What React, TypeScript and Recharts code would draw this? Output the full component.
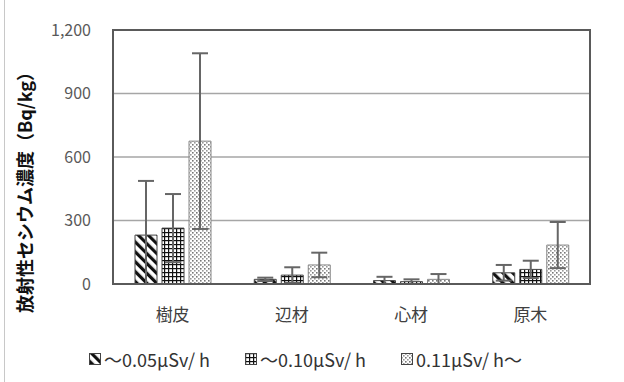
import { BarChart, Bar, XAxis, YAxis, CartesianGrid, ErrorBar, ReferenceArea } from 'recharts';

const categories = ['樹皮', '辺材', '心材', '原木'];
const seriesNames = ['～0.05μSv/ h', '～0.10μSv/ h', '0.11μSv/ h～'];

const low = [231, 22, 16, 53];
const lowErr = [256, 8, 18, 37];
const mid = [264, 42, 11, 69];
const midErr = [161, 37, 11, 41];
const high = [675, 90, 22, 184];
const highErr = [415, 58, 25, 109];

const yTicks = [0, 300, 600, 900, 1200];

const data = categories.map((name, i) => ({
  name,
  low: low[i],
  lowErr: [Math.min(lowErr[i], low[i]), lowErr[i]],
  mid: mid[i],
  midErr: [Math.min(midErr[i], mid[i]), midErr[i]],
  high: high[i],
  highErr: [Math.min(highErr[i], high[i]), highErr[i]],
}));

const FONT = '"Noto Sans CJK JP", "Noto Sans", sans-serif';
const FRAME = '#5a5a5a';

function Patterns({ p }: { p: string }) {
  return (
    <defs>
      <pattern id={`${p}diag`} width="7" height="7" patternUnits="userSpaceOnUse" patternTransform="rotate(-45)">
        <rect width="7" height="7" fill="#fff" />
        <rect width="3.2" height="7" fill="#111" />
      </pattern>
      <pattern id={`${p}grid`} width="4" height="4" patternUnits="userSpaceOnUse">
        <rect width="4" height="4" fill="#fff" />
        <rect width="4" height="1.2" fill="#111" />
        <rect width="1.2" height="4" fill="#111" />
      </pattern>
      <pattern id={`${p}dots`} width="4" height="4" patternUnits="userSpaceOnUse">
        <rect width="4" height="4" fill="#fff" />
        <rect x="0" y="0" width="1.6" height="1.6" fill="#777" />
        <rect x="2" y="2" width="1.6" height="1.6" fill="#999" />
      </pattern>
    </defs>
  );
}

const fills = ['diag', 'grid', 'dots'];

function LegendIcon({ kind }: { kind: string }) {
  return (
    <svg width={12} height={12} style={{ marginRight: 3 }}>
      <Patterns p="lg" />
      <rect x={0.5} y={0.5} width={11} height={11} fill={`url(#lg${kind})`} stroke="#444" />
    </svg>
  );
}

export default function App() {
  return (
    <div style={{ position: 'absolute', left: 0, top: 0, width: 624, height: 382, background: '#fff', fontFamily: FONT }}>
      <div style={{ position: 'absolute', left: 4, top: 0, width: 1, height: 382, background: '#c8c8c8' }} />
      <BarChart
        width={624}
        height={382}
        data={data}
        margin={{ top: 30, right: 34, left: 0, bottom: 68 }}
        barSize={22}
        barGap={5}
      >
        <Patterns p="c" />
        <CartesianGrid vertical={false} stroke="#a6a6a6" strokeWidth={1.5} />
        {/* plot frame */}
        <ReferenceArea
          x1={categories[0]}
          x2={categories[categories.length - 1]}
          y1={0}
          y2={1200}
          fill="none"
          fillOpacity={0}
          stroke={FRAME}
          strokeWidth={2}
          strokeOpacity={1}
        />
        <XAxis
          dataKey="name"
          axisLine={{ stroke: FRAME, strokeWidth: 2 }}
          tickLine={false}
          tickSize={0}
          tickMargin={25}
          tick={{ fill: '#404040', fontSize: 17, fontFamily: FONT }}
        />
        <YAxis
          width={113}
          domain={[0, 1200]}
          ticks={yTicks}
          interval={0}
          tickFormatter={(v: number) => v.toLocaleString('en-US')}
          axisLine={{ stroke: FRAME, strokeWidth: 2 }}
          tickLine={false}
          tickSize={0}
          tickMargin={22}
          tick={{ fill: '#595959', fontSize: 16, fontFamily: FONT }}
        />
        <Bar dataKey="low" name={seriesNames[0]} fill={`url(#c${fills[0]})`} stroke="#444" strokeWidth={1} isAnimationActive={false}>
          <ErrorBar dataKey="lowErr" width={8} stroke="#666" strokeWidth={2} />
        </Bar>
        <Bar dataKey="mid" name={seriesNames[1]} fill={`url(#c${fills[1]})`} stroke="#444" strokeWidth={1} isAnimationActive={false}>
          <ErrorBar dataKey="midErr" width={8} stroke="#666" strokeWidth={2} />
        </Bar>
        <Bar dataKey="high" name={seriesNames[2]} fill={`url(#c${fills[2]})`} stroke="#888" strokeWidth={1} isAnimationActive={false}>
          <ErrorBar dataKey="highErr" width={8} stroke="#666" strokeWidth={2} />
        </Bar>
      </BarChart>
      <div style={{ position: 'absolute', left: 24, top: 188, width: 0, height: 0 }}>
        <div
          style={{
            position: 'absolute', left: 0, top: 0, transform: 'translate(-50%, -50%) rotate(-90deg)',
            whiteSpace: 'nowrap', fontSize: 18, fontWeight: 700, color: '#111',
          }}
        >
          放射性セシウム濃度（Bq/kg）
        </div>
      </div>
      <div style={{ position: 'absolute', left: 89, top: 346, display: 'flex', alignItems: 'center', fontSize: 18, color: '#333', lineHeight: '26px' }}>
        {seriesNames.map((s, i) => (
          <div key={s} style={{ display: 'flex', alignItems: 'center', width: 156 }}>
            <LegendIcon kind={fills[i]} />
            <span>{s}</span>
          </div>
        ))}
      </div>
    </div>
  );
}
